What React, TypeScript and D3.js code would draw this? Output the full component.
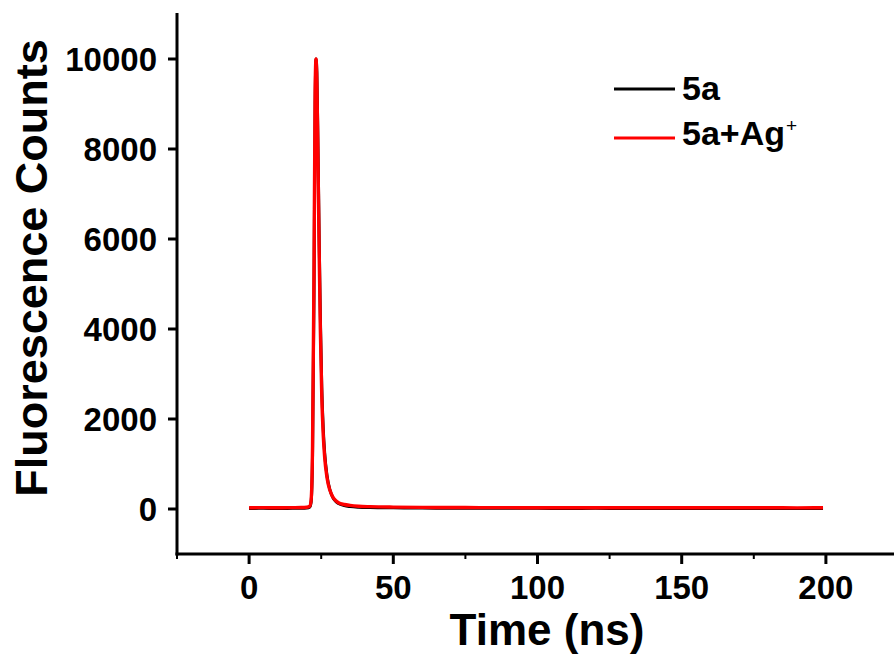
import React, { useEffect, useRef } from "react";
import * as d3 from "d3";

// decay traces, time in ns
const timeBlack = [0, 5, 10, 15, 18, 20, 21, 21.5, 22, 22.5, 22.9, 23.2, 23.5, 23.9, 24.3, 24.7, 25.2, 25.7, 26.2, 27, 28, 29, 30, 31, 33, 35, 38, 42, 50, 60, 70, 80, 90, 100, 110, 120, 130, 140, 150, 160, 170, 180, 190, 199];
const countsBlack = [12, 15, 10, 14, 16, 22, 40, 150, 1200, 4800, 9000, 10000, 9700, 8000, 6000, 4300, 2700, 1800, 1250, 750, 430, 260, 170, 120, 75, 55, 40, 32, 25, 20, 18, 16, 15, 14, 13, 14, 12, 12, 11, 12, 10, 11, 10, 10];

const timeRed = [0, 5, 10, 15, 18, 20, 21, 21.5, 22, 22.5, 22.9, 23.2, 23.5, 23.9, 24.3, 24.7, 25.2, 25.7, 26.2, 27, 28, 29, 30, 31, 33, 35, 38, 42, 50, 60, 70, 80, 90, 100, 110, 120, 130, 140, 150, 160, 170, 180, 190, 199];
const countsRed = [28, 30, 27, 30, 32, 40, 60, 200, 1400, 5200, 9300, 10000, 9500, 7700, 5700, 4000, 2500, 1650, 1150, 700, 420, 270, 190, 140, 100, 80, 62, 52, 42, 36, 33, 31, 30, 29, 29, 28, 28, 27, 28, 27, 27, 28, 26, 27];

const xTicks = [0, 50, 100, 150, 200];
const xMinorTicks = [-25, 25, 75, 125, 175, 225];
const yTicks = [0, 2000, 4000, 6000, 8000, 10000];

const legendLabels = ["5a", "5a+Ag"];
const seriesColors = ["#000000", "#ff0000"];

const W = 894;
const H = 654;
const FONT = "'Liberation Sans', Arial, sans-serif";

const App = () => {
  const ref = useRef(null);

  useEffect(() => {
    const svg = d3.select(ref.current);
    svg.selectAll("*").remove();

    const x = d3.scaleLinear().domain([-25, 225]).range([177, 898]);
    const y = d3.scaleLinear().domain([-1000, 11000]).range([554, 14]);

    const line = d3
      .line()
      .x((d) => x(d[0]))
      .y((d) => y(d[1]))
      .curve(d3.curveMonotoneX);

    const series = [
      d3.zip(timeBlack, countsBlack),
      d3.zip(timeRed, countsRed),
    ];

    series.forEach((s, i) => {
      svg
        .append("path")
        .datum(s)
        .attr("d", line)
        .attr("fill", "none")
        .attr("stroke", seriesColors[i])
        .attr("stroke-width", i === 0 ? 3 : 3.4)
        .attr("stroke-linejoin", "round");
    });

    // axes
    const axisG = svg.append("g").attr("stroke", "#000").attr("stroke-width", 3);
    axisG
      .append("line")
      .attr("x1", x(-25))
      .attr("x2", x(-25))
      .attr("y1", y(11000) - 1)
      .attr("y2", y(-1000) + 1.5);
    axisG
      .append("line")
      .attr("x1", x(-25) - 1.5)
      .attr("x2", x(225))
      .attr("y1", y(-1000))
      .attr("y2", y(-1000));

    axisG
      .selectAll(".xt")
      .data(xTicks)
      .enter()
      .append("line")
      .attr("x1", (d) => x(d))
      .attr("x2", (d) => x(d))
      .attr("y1", y(-1000))
      .attr("y2", y(-1000) + 10);

    axisG
      .selectAll(".xm")
      .data(xMinorTicks)
      .enter()
      .append("line")
      .attr("stroke-width", 2)
      .attr("x1", (d) => x(d))
      .attr("x2", (d) => x(d))
      .attr("y1", y(-1000))
      .attr("y2", y(-1000) + 5);

    axisG
      .selectAll(".yt")
      .data(yTicks)
      .enter()
      .append("line")
      .attr("x1", x(-25))
      .attr("x2", x(-25) - 9)
      .attr("y1", (d) => y(d))
      .attr("y2", (d) => y(d));

    svg
      .selectAll(".xl")
      .data(xTicks)
      .enter()
      .append("text")
      .attr("x", (d) => x(d))
      .attr("y", 599)
      .attr("text-anchor", "middle")
      .attr("font-family", FONT)
      .attr("font-weight", "bold")
      .attr("font-size", 33)
      .text((d) => d);

    svg
      .selectAll(".yl")
      .data(yTicks)
      .enter()
      .append("text")
      .attr("x", 157)
      .attr("y", (d) => y(d))
      .attr("dy", "0.36em")
      .attr("text-anchor", "end")
      .attr("font-family", FONT)
      .attr("font-weight", "bold")
      .attr("font-size", 33)
      .text((d) => d);

    svg
      .append("text")
      .attr("x", 547)
      .attr("y", 645)
      .attr("text-anchor", "middle")
      .attr("font-family", FONT)
      .attr("font-weight", "bold")
      .attr("font-size", 44)
      .text("Time (ns)");

    svg
      .append("text")
      .attr("transform", "translate(47,268) rotate(-90)")
      .attr("text-anchor", "middle")
      .attr("font-family", FONT)
      .attr("font-weight", "bold")
      .attr("font-size", 45)
      .text("Fluorescence Counts");

    // legend
    const lineY = [89, 138];
    const textY = [99.5, 145];
    const leg = svg.append("g");
    legendLabels.forEach((lab, i) => {
      leg
        .append("line")
        .attr("x1", 614)
        .attr("x2", 675)
        .attr("y1", lineY[i])
        .attr("y2", lineY[i])
        .attr("stroke", seriesColors[i])
        .attr("stroke-width", 3);
      const t = leg
        .append("text")
        .attr("x", 682)
        .attr("y", textY[i])
        .attr("font-family", FONT)
        .attr("font-weight", "bold")
        .attr("font-size", 34)
        .text(lab);
      if (i === 1) {
        t.append("tspan")
          .attr("dx", 1)
          .attr("dy", -13)
          .attr("font-size", 19)
          .attr("font-weight", "normal")
          .text("+");
      }
    });
  }, []);

  return (
    <svg
      ref={ref}
      width={W}
      height={H}
      style={{ position: "absolute", left: 0, top: 0, background: "#fff" }}
    />
  );
};

export default App;
